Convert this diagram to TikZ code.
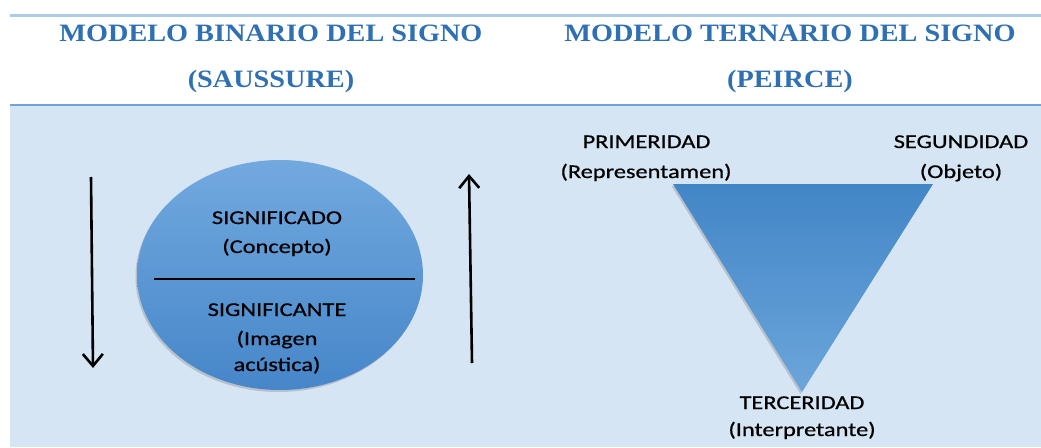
\documentclass[tikz,border=0pt]{standalone}
\usepackage{fontspec}
\usetikzlibrary{arrows.meta,shapes.geometric,shadows}
\newfontfamily\titlefont[FakeStretch=1.13]{Liberation Serif}
\newfontfamily\bodyfont[FakeStretch=1.25,FakeBold=0.7]{Carlito}
\definecolor{bgblue}{HTML}{D5E5F4}
\definecolor{topline}{HTML}{AACCEB}
\definecolor{midline}{HTML}{6FA3D6}
\definecolor{titleblue}{HTML}{2F70B2}
\definecolor{elltop}{HTML}{72A9DF}
\definecolor{ellbot}{HTML}{4686C9}
\definecolor{tritop}{HTML}{4286C6}
\definecolor{tribot}{HTML}{6CA5DB}
\tikzset{
  titletext/.style={anchor=base, inner sep=0pt, text=titleblue, font=\titlefont\bfseries\fontsize{25}{25}\selectfont},
  bodytext/.style={anchor=base, inner sep=0pt, text=black, font=\bodyfont\fontsize{19.5}{19.5}\selectfont},
  arrowline/.style={line width=2.6pt, -{Straight Barb[length=12pt,width=20pt,line width=2.6pt]}},
  softshadow/.style={drop shadow={opacity=0.35, shadow xshift=-1.5pt, shadow yshift=-2pt}}
}
\begin{document}
\begin{tikzpicture}[x=1pt,y=-1pt]
\useasboundingbox (0,0) rectangle (1041,447);
% background panel and rules
\fill[bgblue] (10,105) rectangle (1041,447);
\draw[topline, line width=3pt] (10,15) -- (1041,15);
\draw[midline, line width=2pt] (10,105) -- (1041,105);
% titles
\node[titletext] (t1) at (271,41) {MODELO BINARIO DEL SIGNO};
\node[titletext] (t1b) at (271,87) {(SAUSSURE)};
\node[titletext] (t2) at (790,41) {MODELO TERNARIO DEL SIGNO};
\node[titletext] (t2b) at (790,87) {(PEIRCE)};
% Saussure ellipse
\node[ellipse, minimum width=286pt, minimum height=230pt, inner sep=0pt,
      top color=elltop, bottom color=ellbot, softshadow] (ell) at (280,275) {};
\coordinate (barL) at (154,279);
\coordinate (barR) at (415,279);
\draw[black, line width=2.6pt] (barL) -- (barR);
\node[bodytext] (sdo) at (277,224) {SIGNIFICADO};
\node[bodytext] (sdo2) at (277,253) {(Concepto)};
\node[bodytext] (ste) at (277,316) {SIGNIFICANTE};
\node[bodytext] (ste2) at (277,345) {(Imagen};
\node[bodytext] (ste3) at (277,371) {acústica)};
% arrows
\coordinate (aLtop) at (91,177);
\coordinate (aLbot) at (93,368);
\coordinate (aRbot) at (472,363);
\coordinate (aRtop) at (469,174);
\draw[arrowline] (aLtop) -- (aLbot);
\draw[arrowline] (aRbot) -- (aRtop);
% Peirce triangle
\coordinate (pA) at (673,184);
\coordinate (pB) at (933,184);
\coordinate (pC) at (802,392);
\shade[top color=tritop, bottom color=tribot, softshadow] (pA) -- (pB) -- (pC) -- cycle;
\node[bodytext] (prim) at (646.5,148) {PRIMERIDAD};
\node[bodytext] (prim2) at (646,178) {(Representamen)};
\node[bodytext] (seg) at (961,148) {SEGUNDIDAD};
\node[bodytext] (seg2) at (961,178) {(Objeto)};
\node[bodytext] (ter) at (802,409) {TERCERIDAD};
\node[bodytext] (ter2) at (802,436) {(Interpretante)};
\end{tikzpicture}
\end{document}
